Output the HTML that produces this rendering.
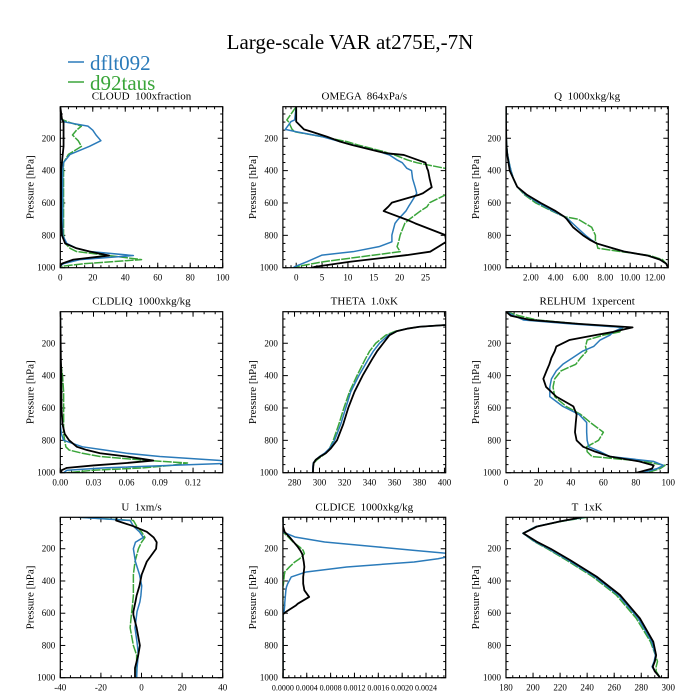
<!DOCTYPE html>
<html><head><meta charset="utf-8">
<style>
html,body{margin:0;padding:0;background:#fff;}
svg{display:block;font-family:"Liberation Serif",serif;}
svg text{white-space:pre;}
</style></head>
<body>
<svg id="chart" width="700" height="700" viewBox="0 0 700 700" xmlns="http://www.w3.org/2000/svg">
<rect x="0" y="0" width="700" height="700" fill="#fff"/>
<text x="350" y="49" font-size="21" text-anchor="middle">Large-scale VAR at275E,-7N</text>
<g>
<line x1="68" y1="62" x2="84" y2="62" stroke="#2b7bba" stroke-width="1.5"/>
<text x="90" y="70" font-size="21" fill="#2b7bba">dflt092</text>
<line x1="68" y1="82" x2="84" y2="82" stroke="#3aa53a" stroke-width="1.5"/>
<text x="90" y="90" font-size="21" fill="#3aa53a">d92taus</text>
</g>
<g id="panels"></g>
</svg>
<script>
// ---- data arrays (pressure levels in hPa, values per series) ----
const cloudP = [5,80,100,125,150,180,215,250,300,350,400,500,600,700,800,850,880,900,925,950,975,990,1000];
const cloudObs = [0,1,2,2,2,2,2,2,1.5,1,0.5,0.5,0.5,0.5,1,3,10,18,30,8,1,0,0];
const cloudDflt = [0,0,3,17,20,22,25,18,6,2,1.5,1.5,1.5,1.5,1.5,4,10,18,45,12,2,0,0];
const cloudTaus = [0,0,5,13,10,7.5,11,13,5,2,2,2,2,2,2,3,6,10,30,50,15,2,0];
const cloudTicks = [0,20,40,60,80,100];
const cloudTickLabels = ["0","20","40","60","80","100"];

const omegaP = [5,87,97,145,160,190,221,242,283,293,303,334,351,386,400,450,503,540,551,598,623,650,705,726,798,840,870,901,922,963,994,1000];
const omegaObs = [0,0,0,1.5,3,5.9,8.5,10.8,16,17.5,20.8,23.5,25,25.3,25.5,25.8,26.2,24.5,23.6,18.5,17.8,16.9,21.5,23,28.8,29,27.5,25.9,21.4,10.4,3.7,3];
const omegaDflt = [0,-0.3,-1,-2.1,0,5,8.5,11,16.2,17,18,19.5,20.5,21.4,22.3,22.5,23,23.3,23.1,22.2,21.7,21.2,19.6,19.1,18.5,18.5,16,11,5,2.1,-0.3,-0.5];
const omegaTaus = [0,-1.8,-1.5,-0.8,-0.3,5,9.8,12,17,17.9,19,21.5,23.3,28.8,30,31,31,30.5,28.8,25.8,25.3,24,21.7,21,20.1,19.8,19.5,20.1,15,5.3,0,-0.6];
const omegaTicks = [0,5,10,15,20,25];
const omegaTickLabels = ["0","5","10","15","20","25"];

const qP = [5,100,200,250,300,350,400,450,500,550,600,650,685,700,750,800,830,850,880,900,925,950,975,1000];
const qObs = [0,0,0.02,0.04,0.1,0.2,0.3,0.6,0.9,1.7,2.8,4.0,4.7,4.9,5.4,6.2,6.8,7.3,8.6,9.5,11.4,12.4,12.9,13.05];
const qDflt = [0,0,0.02,0.05,0.12,0.25,0.4,0.6,0.9,1.6,2.6,3.8,4.7,5.0,5.7,6.4,6.9,7.3,8.6,9.5,11.4,12.4,12.9,13.05];
const qTaus = [0,0,0.02,0.05,0.12,0.25,0.4,0.6,0.9,1.5,2.4,3.7,4.7,5.8,6.9,7.2,7.2,7.3,7.4,9.2,11.6,12.6,12.9,13.05];
const qTicks = [2,4,6,8,10,12];
const qTickLabels = ["2.00","4.00","6.00","8.00","10.00","12.00"];

const liqP = [5,300,400,500,600,700,760,800,840,860,880,900,925,940,955,970,985,1000];
const liqObs = [0,0.0005,0.001,0.001,0.001,0.002,0.004,0.008,0.015,0.024,0.036,0.06,0.084,0.06,0.03,0.006,0.001,0.001];
const liqDflt = [0,0,0,0,0,0,0.001,0.003,0.02,0.04,0.06,0.09,0.145,0.16,0.1,0.04,0.006,0.003];
const liqTaus = [0,0,0.002,0.003,0.003,0.003,0.003,0.004,0.005,0.008,0.02,0.036,0.08,0.115,0.1,0.075,0.03,0.006];
const liqTicks = [0,0.03,0.06,0.09,0.12];
const liqTickLabels = ["0.00","0.03","0.06","0.09","0.12"];

const thetaP = [5,87,98,110,125,150,200,250,300,400,500,600,700,800,850,880,900,920,940,960,1000];
const thetaObs = [500,401,380,370,362,356,351,346,342,334.5,328,323,319,314,309,305,300.6,297,295.3,295,294.7];
const thetaDflt = [500,401,380,370,362,355,348,343,339,331.5,325,321,317,312,308,304,300,297,295,294.7,294.5];
const thetaTaus = [500,401,380,370,361,353,345,340,336.5,330,324,319.5,315.5,311,308,305,301.5,298,295.5,295,294.5];
const thetaTicks = [280,300,320,340,360,380,400];
const thetaTickLabels = ["280","300","320","340","360","380","400"];

const rhP = [5,30,56,80,102,130,150,180,220,250,290,330,370,420,470,530,590,640,690,750,800,840,870,900,930,955,975,1000];
const rhObs = [0,3,15,45,78,66,55,39,31,30,28,26.7,25,23,24.7,31,41.5,43.5,43,42.5,43.5,47.6,55,64,82,91,90,80.5];
const rhDflt = [0,5,10.7,40,72,66,64,58,54,47,41,35,31,28,27,27,35,45,49.7,49.7,50,51,58,64,90.8,97,93,84];
const rhTaus = [0,8,19,45,72,70,60,50,49,49.7,46,43,34,30,29,30,37,46,52,60,57,49.7,50,53,85,98,95,87];
const rhTicks = [0,20,40,60,80,100];
const rhTickLabels = ["0","20","40","60","80","100"];

const uP = [5,25,60,95,130,160,200,280,360,430,490,530,590,610,690,800,860,940,1000];
const uObs = [-12.2,-12.5,-4,2.6,6,7.5,7.2,2.6,0.1,-1,-2.4,-3,-4,-4,-2.4,-0.8,-1.6,-3.2,-3.2];
const uDflt = [-31,-5.6,-4,-1,0.9,-3,-4,-3,-1,0.1,-0.3,-0.8,-2.2,-2.4,-3.2,-2,-1.6,-2.2,-2.4];
const uTaus = [-30,-4,-2.4,0,1.7,0,-1.5,-3.2,-4,-4,-4,-4.3,-4.8,-5,-5.6,-4,-2.4,-2.4,-2.4];
const uTicks = [-40,-20,0,20,40];
const uTickLabels = ["-40","-20","0","20","40"];

const iceP = [5,60,96,127,158,189,210,230,240,262,282,313,344,375,417,437,458,499,541,551,592,607,700,1000];
const iceObs = [0,0,0.00003,0.00011,0.00018,0.00025,0.00029,0.00032,0.00033,0.00034,0.00035,0.00036,0.00035,0.00034,0.00034,0.00035,0.00036,0.00044,0.00025,0.00022,0.00005,0,0,0];
const iceDflt = [0,0,0,0.0002,0.0007,0.0016,0.0022,0.0028,0.0029,0.0026,0.0022,0.00107,0.00039,0.00014,0.00008,0.00006,0.00005,0.00004,0.00003,0.00003,0.00002,0,0,0];
const iceTaus = [0,0,0,0.00009,0.00017,0.00028,0.00034,0.00036,0.00034,0.00028,0.0002,0.00011,0.00003,0.00002,0.00001,0,0,0,0,0,0,0,0,0];
const iceTicks = [0,0.0004,0.0008,0.0012,0.0016,0.0020,0.0024];
const iceTickLabels = ["0.0000","0.0004","0.0008","0.0012","0.0016","0.0020","0.0024"];

const tP = [5,30,63,104,156,200,270,373,487,632,777,860,900,932,960,1000];
const tObs = [236,220,202.7,192.8,202.7,213,227.3,247,264.3,279,288.9,291,290,288.5,290,294];
const tDflt = [238,220,202,192.5,201.5,211.5,225.8,245.5,263,277.8,287.8,290.5,289.5,288,290,294];
const tTaus = [240,221,202,192.5,201,210.5,224.5,244,261.5,276.3,286.8,290.5,292,291,291,294];
const tTicks = [180,200,220,240,260,280,300];
const tTickLabels = ["180","200","220","240","260","280","300"];

const pTicks = [200,400,600,800,1000];
const pTickLabels = ["200","400","600","800","1000"];

// ---- layout ----
const NS = "http://www.w3.org/2000/svg";
const colX = [[60.3,222.7],[282.9,445.7],[506,668.3]];
const rowY = [[106.7,267.7],[311.7,472.7],[517.3,677.7]];
const P_TOP = 5, P_BOT = 1000;
const BLUE = "#2b7bba", GREEN = "#3aa53a";

const panels = [
 {key:"cloud",title:"CLOUD  100xfraction",r:0,c:0,xmin:0,xmax:100,minor:5,p:cloudP,obs:cloudObs,dflt:cloudDflt,taus:cloudTaus,ticks:cloudTicks,labels:cloudTickLabels,fs:9},
 {key:"omega",title:"OMEGA  864xPa/s",r:0,c:1,xmin:-2.57,xmax:28.9,minor:1,p:omegaP,obs:omegaObs,dflt:omegaDflt,taus:omegaTaus,ticks:omegaTicks,labels:omegaTickLabels,fs:9},
 {key:"q",title:"Q  1000xkg/kg",r:0,c:2,xmin:0,xmax:13.07,minor:0.5,p:qP,obs:qObs,dflt:qDflt,taus:qTaus,ticks:qTicks,labels:qTickLabels,fs:9},
 {key:"cldliq",title:"CLDLIQ  1000xkg/kg",r:1,c:0,xmin:0,xmax:0.1468,minor:0.01,p:liqP,obs:liqObs,dflt:liqDflt,taus:liqTaus,ticks:liqTicks,labels:liqTickLabels,fs:9},
 {key:"theta",title:"THETA  1.0xK",r:1,c:1,xmin:270.7,xmax:401,minor:5,p:thetaP,obs:thetaObs,dflt:thetaDflt,taus:thetaTaus,ticks:thetaTicks,labels:thetaTickLabels,fs:9},
 {key:"relhum",title:"RELHUM  1xpercent",r:1,c:2,xmin:0,xmax:100,minor:5,p:rhP,obs:rhObs,dflt:rhDflt,taus:rhTaus,ticks:rhTicks,labels:rhTickLabels,fs:9},
 {key:"u",title:"U  1xm/s",r:2,c:0,xmin:-40,xmax:40,minor:5,p:uP,obs:uObs,dflt:uDflt,taus:uTaus,ticks:uTicks,labels:uTickLabels,fs:9},
 {key:"cldice",title:"CLDICE  1000xkg/kg",r:2,c:1,xmin:0,xmax:0.00273,minor:0.0001,p:iceP,obs:iceObs,dflt:iceDflt,taus:iceTaus,ticks:iceTicks,labels:iceTickLabels,fs:8},
 {key:"t",title:"T  1xK",r:2,c:2,xmin:180,xmax:300,minor:5,p:tP,obs:tObs,dflt:tDflt,taus:tTaus,ticks:tTicks,labels:tTickLabels,fs:9}
];

function mk(tag, attrs, parent){
  const el = document.createElementNS(NS, tag);
  for (const k in attrs) el.setAttribute(k, attrs[k]);
  parent.appendChild(el);
  return el;
}

const root = document.getElementById("panels");
const defs = mk("defs", {}, root);

panels.forEach(pn => {
  const [x0,x1] = colX[pn.c], [y0,y1] = rowY[pn.r];
  const xs = v => x0 + (v - pn.xmin) / (pn.xmax - pn.xmin) * (x1 - x0);
  const ys = p => y0 + (p - P_TOP) / (P_BOT - P_TOP) * (y1 - y0);
  const g = mk("g", {}, root);
  
  

  const cp = mk("clipPath", {id:"clip-" + pn.key}, defs);
  mk("rect", {x:x0, y:y0, width:x1-x0, height:y1-y0}, cp);

  const title = mk("text", {x:(x0+x1)/2, y:y0-7, "font-size":"11", "text-anchor":"middle"}, g);
  title.textContent = pn.title;
  
  

  const yt = mk("text", {x:0, y:0, "font-size":"11", "text-anchor":"middle", transform:"translate(" + (x0-27) + "," + ((y0+y1)/2) + ") rotate(-90)"}, g);
  yt.textContent = "Pressure [hPa]";
  
  

  const tg = mk("g", {stroke:"#000", "stroke-width":"1"}, g);
  
  
  const start = Math.ceil(pn.xmin / pn.minor - 1e-6);
  const end = Math.floor(pn.xmax / pn.minor + 1e-6);
  for (let i = start; i <= end; i++) {
    const v = i * pn.minor;
    const X = xs(v);
    mk("line", {x1:X, y1:y1, x2:X, y2:y1-2.5}, tg);
    mk("line", {x1:X, y1:y0, x2:X, y2:y0+2.5}, tg);
  }
  pn.ticks.forEach((v, i) => {
    const X = xs(v);
    mk("line", {x1:X, y1:y1, x2:X, y2:y1-5}, tg);
    mk("line", {x1:X, y1:y0, x2:X, y2:y0+5}, tg);
    const t = mk("text", {x:X, y:y1+13, "font-size":pn.fs, "text-anchor":"middle"}, g);
    t.textContent = pn.labels[i];
    
    
  });
  for (let p = 50; p <= 1000; p += 50) {
    const Y = ys(p);
    const L = (p % 200 === 0) ? 5 : 2.5;
    mk("line", {x1:x0, y1:Y, x2:x0+L, y2:Y}, tg);
    mk("line", {x1:x1, y1:Y, x2:x1-L, y2:Y}, tg);
  }
  pTicks.forEach((p, i) => {
    const t = mk("text", {x:x0-5, y:ys(p)+3, "font-size":"9", "text-anchor":"end"}, g);
    t.textContent = pTickLabels[i];
    
    
  });

  const series = [
    {name:"obs", vals:pn.obs, color:"#000", w:1.8, dash:null},
    {name:"dflt092", vals:pn.dflt, color:BLUE, w:1.5, dash:null},
    {name:"d92taus", vals:pn.taus, color:GREEN, w:1.5, dash:"9,1.2"}
  ];
  const sg = mk("g", {"clip-path":"url(#clip-" + pn.key + ")"}, g);
  [series[2], series[1], series[0]].forEach(s => {
    const d = s.vals.map((v, i) => (i ? "L" : "M") + xs(v).toFixed(2) + "," + ys(pn.p[i]).toFixed(2)).join(" ");
    const attrs = {d:d, fill:"none", stroke:s.color, "stroke-width":s.w, "stroke-linejoin":"round"};
    if (s.dash) attrs["stroke-dasharray"] = s.dash;
    const path = mk("path", attrs, sg);
    
    
  });

  const frame = mk("rect", {x:x0, y:y0, width:x1-x0, height:y1-y0, fill:"none", stroke:"#000", "stroke-width":"1.2"}, g);
  
  
});
</script>
</body></html>
